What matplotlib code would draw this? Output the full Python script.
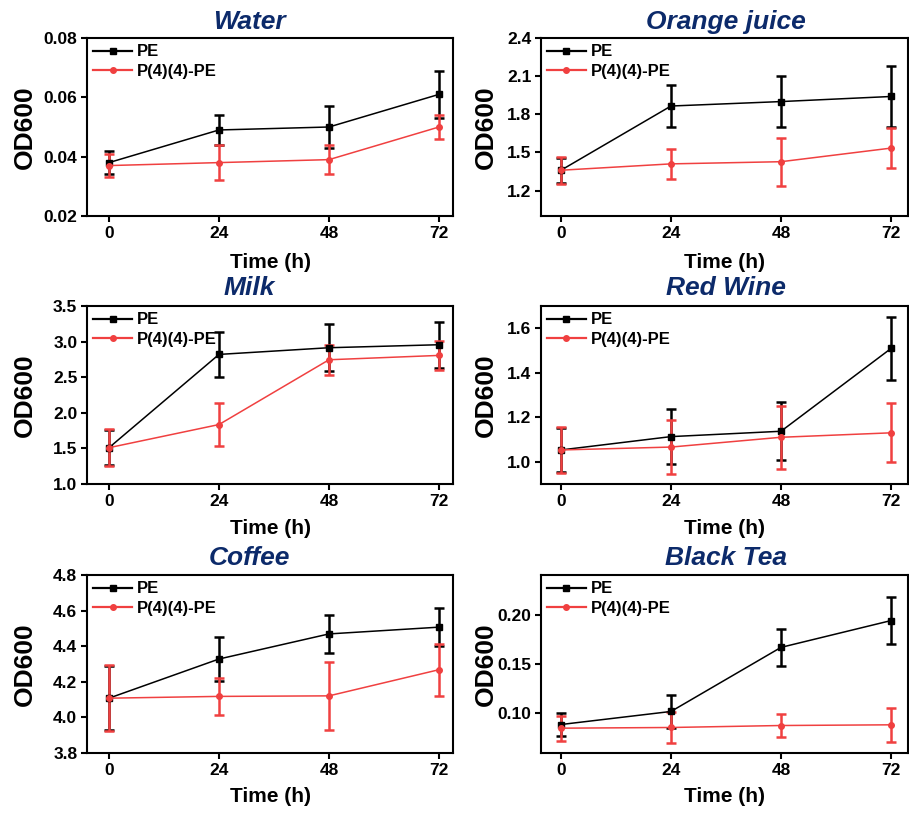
import matplotlib
matplotlib.use("Agg")
import matplotlib.pyplot as plt
from matplotlib.lines import Line2D

plt.rcParams['font.family'] = ['Liberation Sans', 'DejaVu Sans']
plt.rcParams['font.weight'] = 'bold'

time_h = [0, 24, 48, 72]
legend_labels = ["PE", "P(4)(4)-PE"]
titles = ["Water", "Orange juice", "Milk", "Red Wine", "Coffee", "Black Tea"]

water_pe = [0.038, 0.049, 0.050, 0.061]
water_pe_err = [0.004, 0.005, 0.007, 0.008]
water_p4 = [0.037, 0.038, 0.039, 0.050]
water_p4_err = [0.004, 0.006, 0.005, 0.004]

oj_pe = [1.36, 1.865, 1.90, 1.94]
oj_pe_err = [0.10, 0.165, 0.20, 0.24]
oj_p4 = [1.36, 1.41, 1.427, 1.534]
oj_p4_err = [0.107, 0.117, 0.19, 0.16]

milk_pe = [1.51, 2.82, 2.914, 2.956]
milk_pe_err = [0.25, 0.32, 0.33, 0.32]
milk_p4 = [1.51, 1.835, 2.745, 2.806]
milk_p4_err = [0.26, 0.30, 0.21, 0.20]

wine_pe = [1.053, 1.113, 1.137, 1.509]
wine_pe_err = [0.10, 0.125, 0.13, 0.143]
wine_p4 = [1.053, 1.066, 1.11, 1.13]
wine_p4_err = [0.103, 0.12, 0.142, 0.133]

coffee_pe = [4.108, 4.328, 4.469, 4.507]
coffee_pe_err = [0.18, 0.126, 0.108, 0.108]
coffee_p4 = [4.108, 4.118, 4.121, 4.268]
coffee_p4_err = [0.184, 0.106, 0.19, 0.147]

tea_pe = [0.0888, 0.102, 0.1668, 0.1939]
tea_pe_err = [0.012, 0.017, 0.019, 0.024]
tea_p4 = [0.0851, 0.0858, 0.0878, 0.0885]
tea_p4_err = [0.0125, 0.016, 0.012, 0.0175]

panels = [
    (water_pe, water_pe_err, water_p4, water_p4_err, (0.02, 0.08), [0.02, 0.04, 0.06, 0.08], "{:.2f}"),
    (oj_pe, oj_pe_err, oj_p4, oj_p4_err, (1.0, 2.4), [1.2, 1.5, 1.8, 2.1, 2.4], "{:.1f}"),
    (milk_pe, milk_pe_err, milk_p4, milk_p4_err, (1.0, 3.5), [1.0, 1.5, 2.0, 2.5, 3.0, 3.5], "{:.1f}"),
    (wine_pe, wine_pe_err, wine_p4, wine_p4_err, (0.9, 1.7), [1.0, 1.2, 1.4, 1.6], "{:.1f}"),
    (coffee_pe, coffee_pe_err, coffee_p4, coffee_p4_err, (3.8, 4.8), [3.8, 4.0, 4.2, 4.4, 4.6, 4.8], "{:.1f}"),
    (tea_pe, tea_pe_err, tea_p4, tea_p4_err, (0.06, 0.24), [0.10, 0.15, 0.20], "{:.2f}"),
]

W, H = 909, 814
fig = plt.figure(figsize=(W / 100, H / 100), dpi=100)

cols = [(87, 453, -4.8), (541, 908.5, -4.36)]
rows = [(38, 216), (306, 484), (575, 753)]
title_y = [22, 288, 558]
title_x = [249, 726]
xlab_y = [263, 528, 797]
ylab_x = [25, 486]

red = '#f04040'
navy = '#0c2a6a'
pxu = 110 / 24.0

for i, (pe, pe_err, p4, p4_err, ylim, yticks, fmt) in enumerate(panels):
    r, c = divmod(i, 2)
    x0, x1, xmin = cols[c]
    top, bot = rows[r]
    ax = fig.add_axes([x0 / W, 1 - bot / H, (x1 - x0) / W, (bot - top) / H])
    ax.errorbar(time_h, pe, yerr=pe_err, color='black', marker='s', ms=4, lw=1.1,
                elinewidth=1.8, capsize=3.5, capthick=1.8)
    ax.errorbar(time_h, p4, yerr=p4_err, color=red, marker='o', ms=4, lw=1.1,
                elinewidth=1.8, capsize=3.5, capthick=1.8)
    ax.set_xlim(xmin, xmin + (x1 - x0) / pxu)
    ax.set_ylim(*ylim)
    ax.set_xticks(time_h)
    ax.set_yticks(yticks)
    ax.set_yticklabels([fmt.format(v) for v in yticks])
    for s in ax.spines.values():
        s.set_linewidth(1.5)
    ax.tick_params(direction='out', length=4, width=1.5, labelsize=12.5, pad=3)
    for lab in ax.get_xticklabels() + ax.get_yticklabels():
        lab.set_fontweight('bold')
    handles = [Line2D([], [], color='black', marker='s', ms=4, lw=1.6),
               Line2D([], [], color=red, marker='o', ms=4, lw=1.6)]
    ax.legend(handles, legend_labels, loc='upper left', bbox_to_anchor=(-0.01, 1.02),
              frameon=False, fontsize=12, handlelength=2.3, handletextpad=0.3,
              labelspacing=0.25, borderaxespad=0.2)
    fig.text(title_x[c] / W, 1 - title_y[r] / H, titles[i], ha='center', va='center',
             fontsize=19, fontweight='bold', fontstyle='italic', color=navy)
    fig.text((x0 + x1) / 2 / W if c == 1 else 270 / W, 1 - xlab_y[r] / H, "Time (h)",
             ha='center', va='center', fontsize=15, fontweight='bold')
    fig.text(ylab_x[c] / W, 1 - (top + bot) / 2 / H, "OD600", ha='center', va='center',
             rotation=90, fontsize=19, fontweight='bold')

fig.savefig("out.png", dpi=100)
